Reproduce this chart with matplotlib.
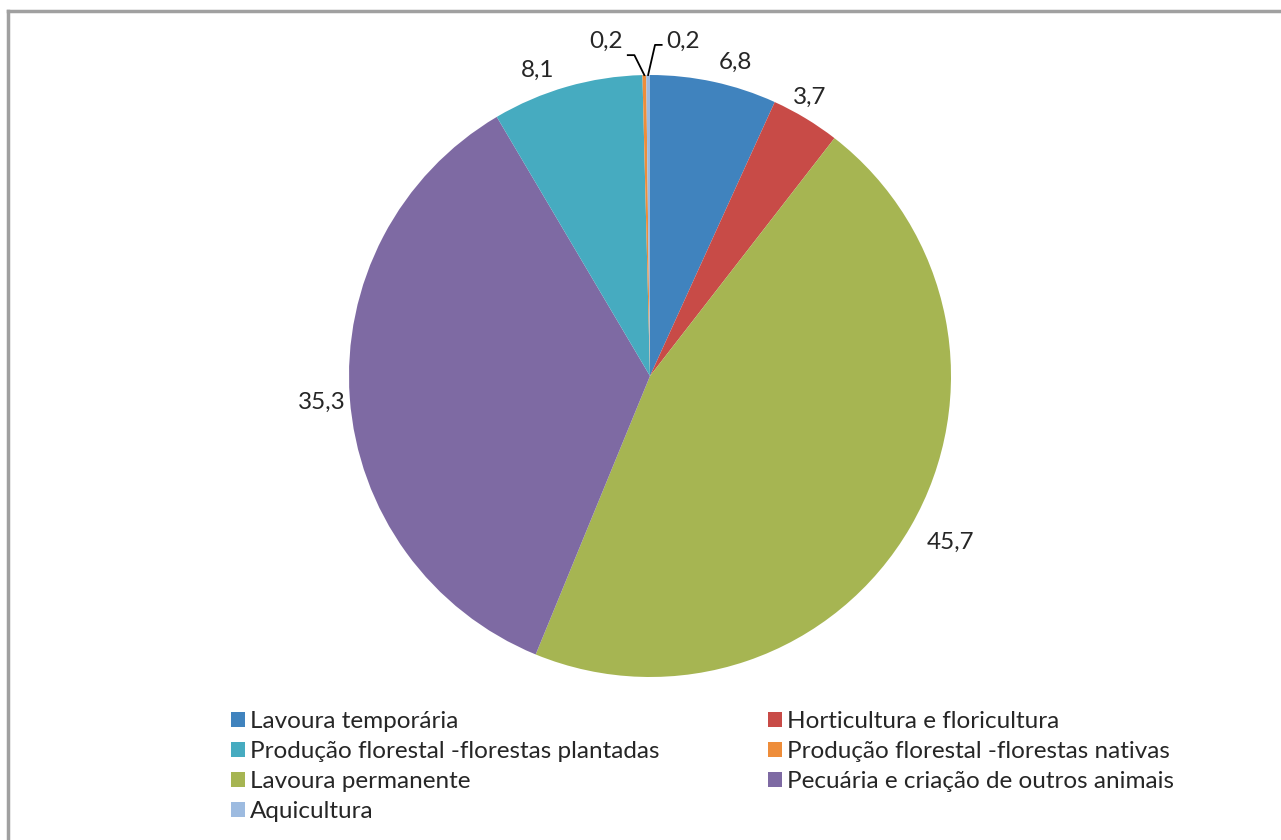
import numpy as np
import matplotlib.pyplot as plt
from matplotlib.lines import Line2D
from matplotlib.patches import Patch

# Slices in drawing order (clockwise from 12 o'clock)
categories = ["Lavoura temporária", "Horticultura e floricultura", "Lavoura permanente",
              "Pecuária e criação de outros animais", "Produção florestal - florestas plantadas",
              "Produção florestal - florestas nativas", "Aquicultura"]
values = [6.8, 3.7, 45.7, 35.3, 8.1, 0.2, 0.2]
value_labels = ["6,8", "3,7", "45,7", "35,3", "8,1", "0,2", "0,2"]
colors = ["#4083BE", "#C84B47", "#A6B552", "#7E6AA3", "#46ABC0", "#EE8D3A", "#9DBBE0"]

# Legend order as it appears (column by column)
legend_order = [0, 4, 2, 6, 1, 5, 3]

plt.rcParams['font.family'] = ['Lato', 'DejaVu Sans']
W, H = 1281, 840
FS = 17.5
fig = plt.figure(figsize=(W / 100, H / 100), dpi=100)

cx, cy, r = 650, 376, 301
ax = fig.add_axes([(cx - r) / W, 1 - (cy + r) / H, 2 * r / W, 2 * r / H])
wedges, _ = ax.pie(values, colors=colors, startangle=90, counterclock=False,
                   radius=1.0, wedgeprops=dict(linewidth=0))
ax.set_xlim(-1, 1)
ax.set_ylim(-1, 1)
ax.set_aspect('equal')
ax.axis('off')

# labels for the larger slices (distance from centre, angle nudge in degrees)
dist = [1.081, 1.068, 1.141, 1.093, 1.083]
nudge = [-2.9, 1.3, 1.0, 0.4, 4.1]
for i in range(5):
    w = wedges[i]
    ang = np.deg2rad((w.theta1 + w.theta2) / 2 + nudge[i])
    ax.text(dist[i] * np.cos(ang), dist[i] * np.sin(ang), value_labels[i],
            ha='center', va='center', fontsize=FS, color='#262626', clip_on=False)

# small slices with leader lines
for i, side, ky, kdx in [(5, -1, 1.066, 0.033), (6, 1, 1.10, 0.023)]:
    w = wedges[i]
    ang = np.deg2rad((w.theta1 + w.theta2) / 2)
    x0, y0 = np.cos(ang), np.sin(ang)
    kx = x0 + side * kdx
    ex = kx + side * 0.022
    ax.plot([x0, kx, ex], [y0, ky, ky], color='black', lw=1.3, clip_on=False)
    ax.text(ex + side * 0.015, 1.113, value_labels[i], ha='left' if side > 0 else 'right',
            va='center', fontsize=FS, color='#262626', clip_on=False)

handles = [Patch(facecolor=colors[i], edgecolor='none') for i in legend_order]
labels = [categories[i].replace(" - ", " -") for i in legend_order]
fig.legend(handles, labels, ncol=2, loc='upper left', bbox_to_anchor=(219 / W, 1 - 699 / H),
           frameon=False, fontsize=FS, handlelength=0.58, handleheight=0.58,
           handletextpad=0.2, columnspacing=4.45, labelspacing=0.37, borderpad=0,
           labelcolor='#262626')

# thin frame around the chart area
fig.add_artist(Line2D([7.5 / W, 7.5 / W], [0, 1 - 11 / H], color='#A0A0A0', lw=2.5,
                      transform=fig.transFigure))
fig.add_artist(Line2D([7.5 / W, 1], [1 - 11 / H, 1 - 11 / H], color='#A0A0A0', lw=2.5,
                      transform=fig.transFigure))

fig.savefig("out.png", dpi=100)
